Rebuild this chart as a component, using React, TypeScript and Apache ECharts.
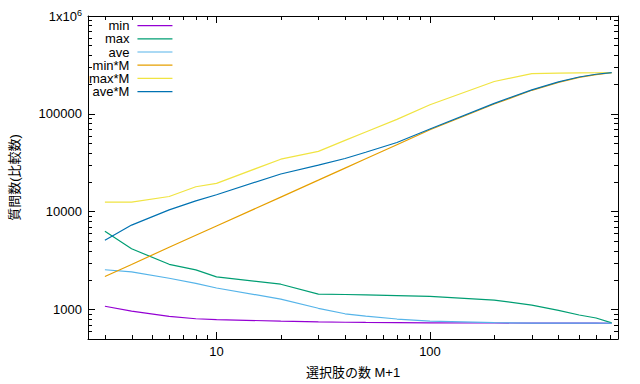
import React, { useEffect, useRef } from "react";
import * as echarts from "echarts";

const xValues = [3, 4, 6, 8, 10, 20, 30, 40, 50, 70, 100, 200, 300, 400, 500, 600, 710];
const minValues = [1080, 965, 850, 805, 790, 760, 748, 742, 738, 735, 732, 729, 727, 726, 725, 725, 724];
const maxValues = [6300, 4180, 2900, 2540, 2160, 1815, 1440, 1425, 1410, 1390, 1365, 1250, 1110, 980, 880, 820, 730];
const aveValues = [2550, 2430, 2090, 1850, 1660, 1280, 1030, 905, 855, 800, 761, 735, 728, 726, 725, 725, 724];
const minMValues = [2175, 2890, 4330, 5740, 7140, 14100, 21000, 27900, 34700, 48300, 68700, 126000, 174000, 210000, 236000, 252000, 263000];
const maxMValues = [12500, 12500, 14300, 18000, 19500, 34400, 41400, 53600, 65300, 87800, 124000, 214000, 258000, 261000, 262000, 263000, 264000];
const aveMValues = [5100, 7300, 10450, 12900, 14900, 24300, 29900, 35000, 40500, 51000, 70000, 128000, 176000, 212000, 238000, 254000, 264000];

const seriesNames = ["min", "max", "ave", "min*M", "max*M", "ave*M"];
const seriesColors = ["#9400d3", "#009e73", "#56b4e9", "#e69f00", "#f0e442", "#0072b2"];

const X_MIN = 2.5;
const X_MAX = 760;
const Y_MIN = 500;
const Y_MAX = 1000000;
const xMinorTicks = [3, 4, 5, 6, 7, 8, 9, 20, 30, 40, 50, 60, 70, 80, 90, 200, 300, 400, 500, 600, 700];
const yMinorTicks = [600, 700, 800, 900, 2000, 3000, 4000, 5000, 6000, 7000, 8000, 9000, 20000, 30000, 40000, 50000, 60000, 70000, 80000, 90000, 200000, 300000, 400000, 500000, 600000, 700000, 800000, 900000];

const FONT = "'Liberation Sans', 'Noto Sans CJK JP', sans-serif";

export default function App() {
  const ref = useRef<HTMLDivElement>(null);
  useEffect(() => {
    if (!ref.current) return;
    const chart = echarts.init(ref.current, undefined, { renderer: "svg" });
    const allValues = [minValues, maxValues, aveValues, minMValues, maxMValues, aveMValues];
    const lineSeries = seriesNames.map((name, i) => ({
      name,
      type: "line",
      xAxisIndex: 0,
      yAxisIndex: 0,
      symbol: "none",
      data: xValues.map((x, j) => [x, allValues[i][j]]),
      lineStyle: { color: seriesColors[i], width: 1.2 },
      itemStyle: { color: seriesColors[i] },
      z: 3,
    }));
    const tickStyle = { stroke: "#000", lineWidth: 1 };
    const minorX = {
      type: "custom",
      xAxisIndex: 0,
      yAxisIndex: 0,
      silent: true,
      clip: false,
      data: xMinorTicks.map((v) => [v, Y_MIN]),
      renderItem: (params: any, api: any) => {
        const b = api.coord([api.value(0), Y_MIN]);
        const t = api.coord([api.value(0), Y_MAX]);
        const x = Math.round(b[0]) + 0.5;
        return {
          type: "group",
          children: [
            { type: "line", shape: { x1: x, y1: b[1], x2: x, y2: b[1] - 4 }, style: tickStyle },
            { type: "line", shape: { x1: x, y1: t[1], x2: x, y2: t[1] + 4 }, style: tickStyle },
          ],
        };
      },
    };
    const minorY = {
      type: "custom",
      xAxisIndex: 0,
      yAxisIndex: 0,
      silent: true,
      clip: false,
      data: yMinorTicks.map((v) => [X_MIN, v]),
      renderItem: (params: any, api: any) => {
        const l = api.coord([X_MIN, api.value(1)]);
        const r = api.coord([X_MAX, api.value(1)]);
        const y = Math.round(l[1]) + 0.5;
        return {
          type: "group",
          children: [
            { type: "line", shape: { x1: l[0], y1: y, x2: l[0] + 4, y2: y }, style: tickStyle },
            { type: "line", shape: { x1: r[0], y1: y, x2: r[0] - 4, y2: y }, style: tickStyle },
          ],
        };
      },
    };
    const axisLine = { show: true, lineStyle: { color: "#000", width: 1 } };
    const axisTick = { show: true, inside: true, length: 7, lineStyle: { color: "#000", width: 1 } };
    chart.setOption({
      animation: false,
      backgroundColor: "#fff",
      textStyle: { fontFamily: FONT },
      grid: { left: 84, right: 22, top: 16, bottom: 43, containLabel: false },
      legend: {
        orient: "vertical",
        left: 84,
        top: 14,
        align: "right",
        icon: "rect",
        itemWidth: 35,
        itemHeight: 1.2,
        itemGap: 0,
        data: seriesNames,
        textStyle: { fontFamily: FONT, fontSize: 13, color: "#000", lineHeight: 13.2, padding: [0, 3, 0, 0] },
      },
      xAxis: [
        {
          type: "log",
          logBase: 10,
          min: X_MIN,
          max: X_MAX,
          position: "bottom",
          axisLine,
          axisTick,
          splitLine: { show: false },
          axisLabel: {
            show: true,
            margin: 6,
            color: "#000",
            fontSize: 13,
            fontFamily: FONT,
            showMinLabel: false,
            showMaxLabel: false,
            formatter: (v: number) => String(Math.round(v)),
          },
          name: "選択肢の数 M+1",
          nameLocation: "middle",
          nameGap: 27,
          nameTextStyle: { color: "#000", fontSize: 13, fontFamily: FONT },
        },
        {
          type: "log",
          logBase: 10,
          min: X_MIN,
          max: X_MAX,
          position: "top",
          axisLine,
          axisTick,
          splitLine: { show: false },
          axisLabel: { show: false },
        },
      ],
      yAxis: [
        {
          type: "log",
          logBase: 10,
          min: Y_MIN,
          max: Y_MAX,
          position: "left",
          axisLine,
          axisTick,
          splitLine: { show: false },
          axisLabel: {
            show: true,
            margin: 6,
            color: "#000",
            fontSize: 13,
            fontFamily: FONT,
            showMinLabel: false,
            showMaxLabel: true,
            formatter: (v: number) => {
              if (Math.abs(v - 1000000) < 1) return "{b|1x10}{s|6}";
              return String(Math.round(v));
            },
            rich: {
              b: { fontSize: 13, lineHeight: 16, color: "#000", fontFamily: FONT },
              s: { fontSize: 9, lineHeight: 9, verticalAlign: "top", color: "#000", fontFamily: FONT },
            },
          },
          name: "質問数(比較数)",
          nameLocation: "middle",
          nameGap: 67,
          nameTextStyle: { color: "#000", fontSize: 13, fontFamily: FONT },
        },
        {
          type: "log",
          logBase: 10,
          min: Y_MIN,
          max: Y_MAX,
          position: "right",
          axisLine,
          axisTick,
          splitLine: { show: false },
          axisLabel: { show: false },
        },
      ],
      series: [...lineSeries, minorX, minorY],
    });
    return () => chart.dispose();
  }, []);
  return (
    <div
      ref={ref}
      style={{ position: "fixed", left: 0, top: 0, width: 640, height: 384, background: "#fff" }}
    />
  );
}
